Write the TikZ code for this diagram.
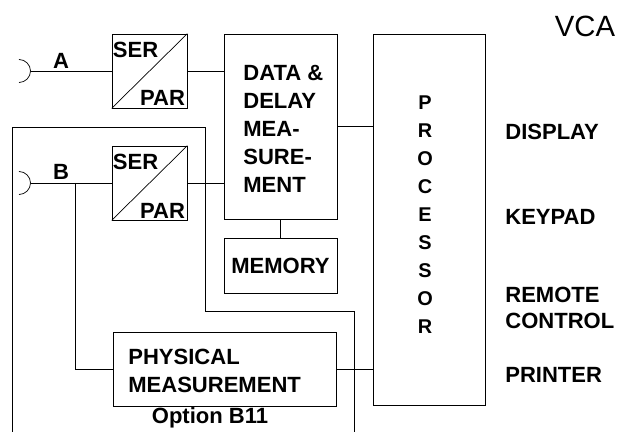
\documentclass[tikz,border=0pt]{standalone}
\usepackage{fontspec}
\setmainfont{Liberation Sans}
\begin{document}
\begin{tikzpicture}[x=0.03cm,y=-0.03cm,line width=0.6pt,
  font=\fontsize{18.8pt}{23.9pt}\selectfont\bfseries,
  box/.style={draw,rectangle,inner sep=0pt},
  txt/.style={inner sep=0pt,align=left}]
\useasboundingbox (0,0) rectangle (619,432);
\node[box,minimum width=2.25cm,minimum height=2.22cm] (serA) at (149.5,71) {};
\node[box,minimum width=2.25cm,minimum height=2.22cm] (serB) at (149.5,183) {};
\node[box,minimum width=3.39cm,minimum height=5.55cm] (data) at (280.5,126.5) {};
\node[box,minimum width=3.39cm,minimum height=1.65cm] (mem) at (280.5,265.5) {MEMORY};
\node[box,minimum width=3.36cm,minimum height=11.13cm] (proc) at (429,219.5) {};
\node[box,minimum width=6.69cm,minimum height=2.22cm] (phys) at (224.5,369) {};
\draw (serA.south west)--(serA.north east);
\draw (serB.south west)--(serB.north east);
\node[txt,anchor=north west] (serAt) at ([shift={(1,8)}]serA.north west) {SER};
\node[txt,anchor=south east] (parAt) at ([shift={(-2,-2)}]serA.south east) {PAR};
\node[txt,anchor=north west] (serBt) at ([shift={(1,8)}]serB.north west) {SER};
\node[txt,anchor=south east] (parBt) at ([shift={(-2,-2)}]serB.south east) {PAR};
\node[txt,anchor=west] (datat) at (243,128.5) {DATA \&\\DELAY\\MEA-\\SURE-\\MENT};
\node[txt,anchor=west] (physt) at (128,371) {PHYSICAL\\MEASUREMENT};
\node[txt] (opt) at (210,418) {Option B11};
\node[txt,align=center,font=\fontsize{17pt}{23.9pt}\selectfont\bfseries] (proct) at (425,215) {P\\R\\O\\C\\E\\S\\S\\O\\R};
\node[txt] (vca) at (585,26) {\fontsize{25pt}{25pt}\selectfont\mdseries VCA};
\node[txt,anchor=west] (disp) at (505,132) {DISPLAY};
\node[txt,anchor=west] (keyp) at (505,217) {KEYPAD};
\node[txt,anchor=west,font=\fontsize{18.8pt}{22pt}\selectfont\bfseries] (remc) at (505,308) {REMOTE\\CONTROL};
\node[txt,anchor=west] (prnt) at (505,375) {PRINTER};
\node[txt] (labA) at (61,61) {A};
\node[txt] (labB) at (61,172) {B};
\coordinate (jackA) at (30.5,71);
\coordinate (jackB) at (30.5,183);
\draw (19,59.5) arc(-90:90:11.5);
\draw (19,171.5) arc(-90:90:11.5);
\draw (jackA)--(serA.west);
\draw (jackB)--(serB.west);
\draw (serA.east)--(serA.east -| data.west);
\draw (serB.east)--(serB.east -| data.west);
\draw (data.east)--(data.east -| proc.west);
\draw (data.south)--(mem.north);
\draw (phys.east)--(phys.east -| proc.west);
\coordinate (brB) at (75,183);
\draw (brB) |- (phys.west);
\coordinate (loopA) at (12,432);
\coordinate (loopB) at (354,432);
\draw (loopA)--(12,127)--(205,127)--(205,311)--(354,311)--(loopB);
\end{tikzpicture}
\end{document}
